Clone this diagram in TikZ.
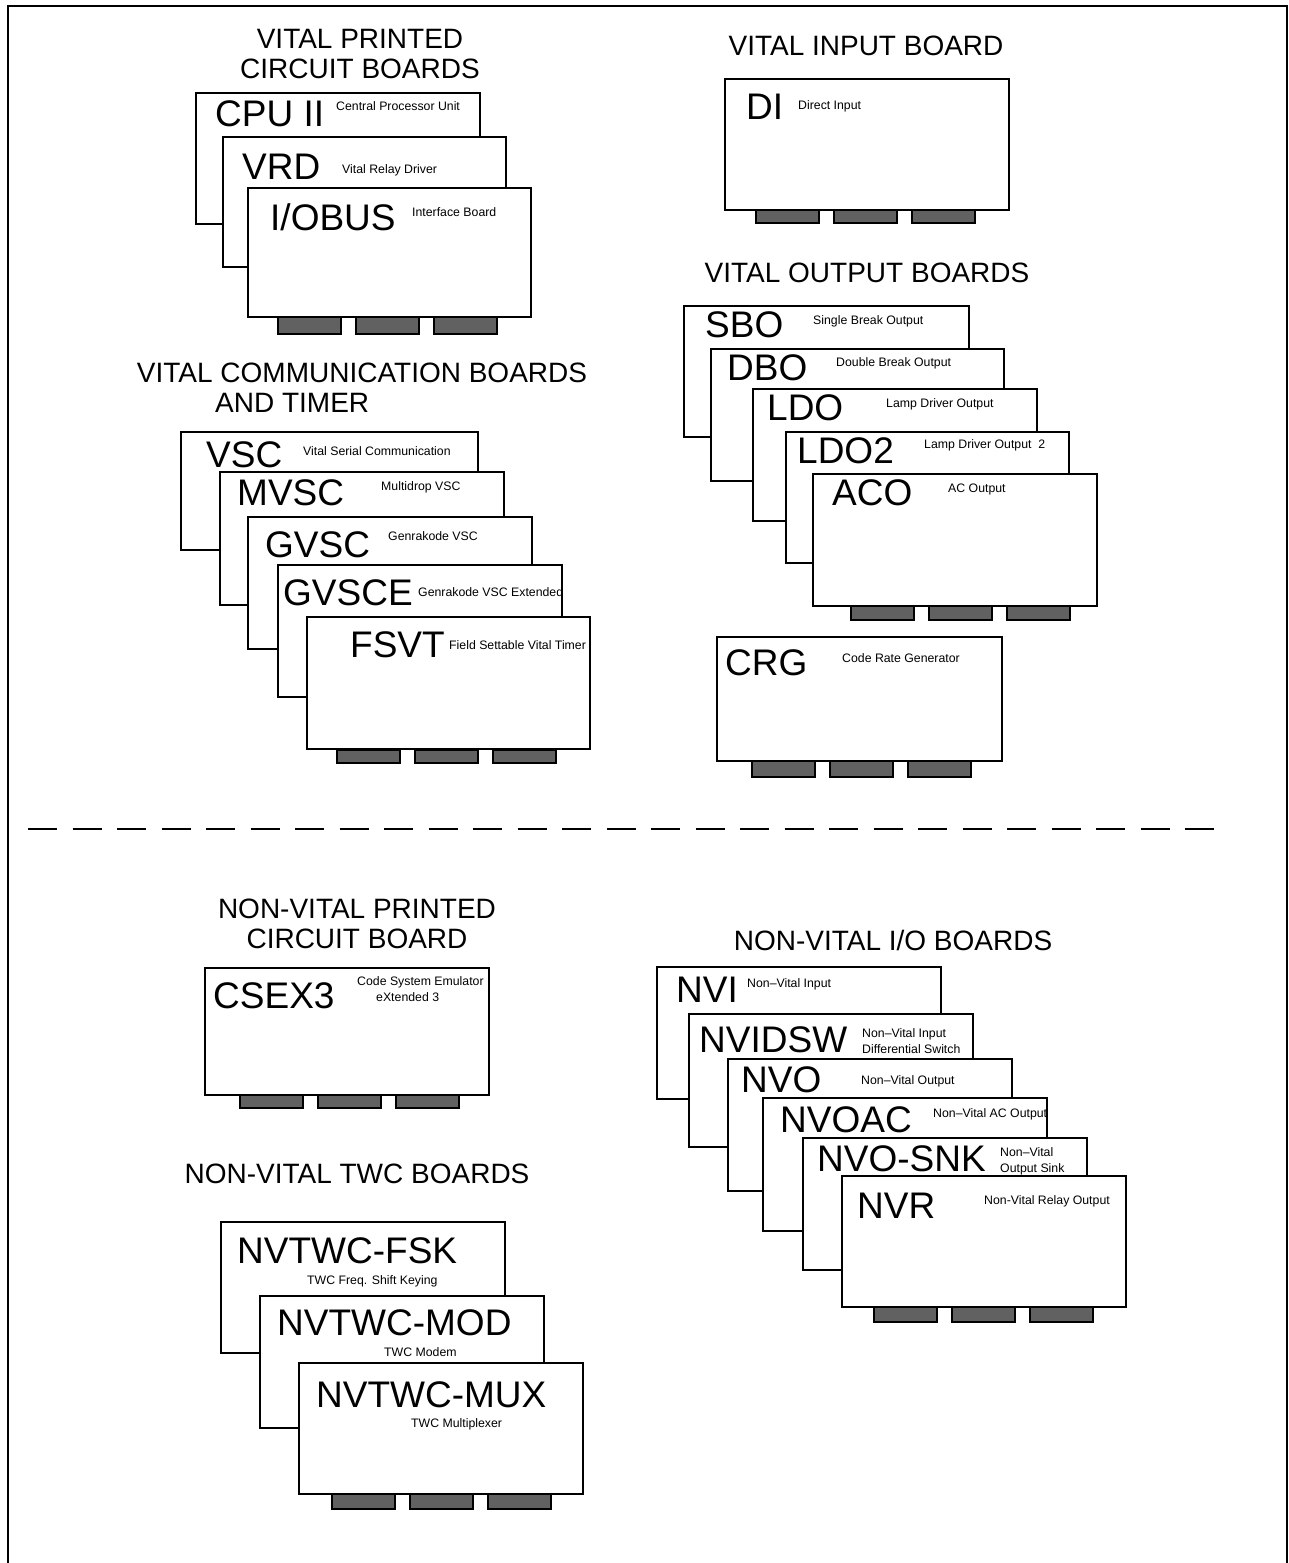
\documentclass[tikz,border=0pt]{standalone}
\usepackage{fontspec}
\setmainfont{Liberation Sans}
\usetikzlibrary{positioning}
\tikzset{
  % outline of one printed circuit board
  card/.style={draw=black,fill=white,line width=1.5pt},
  % edge connector fingers under a board
  finger/.style={draw=black,fill=black!62,line width=1.5pt},
  heading/.style={anchor=base,align=center,inner sep=0pt,
    font=\fontsize{28}{30}\selectfont},
  bigname/.style={anchor=base west,inner sep=0pt,
    font=\fontsize{37}{37}\selectfont},
  smallname/.style={anchor=base west,inner sep=0pt,align=left,
    font=\fontsize{12.3}{15.5}\selectfont},
}
\newcommand{\pcbfingers}[3]{%
  \foreach \k in {0,1,2}
    \path [finger] ({#1+78*\k},#2) rectangle ++(63,#3);
}

\begin{document}
\begin{tikzpicture}[x=1pt,y=-1pt]
\useasboundingbox (0,0) rectangle (1288,1563);
\path [draw=black,line width=2pt] (8,1563)--(8,6)--(1287,6)--(1287,1563);
\path [draw=black,line width=2pt,dash pattern=on 29pt off 15.5pt] (28,829)--(1215,829);

\begin{scope}
  \node [heading] (vitalpcb) at (360,78) {VITAL PRINTED\\CIRCUIT BOARDS};
  \path [card] (196,93) rectangle (480,224);
  \node [bigname] (cpu) at (215,126) {CPU II};
  \node [smallname] (cpudesc) at (336,110) {Central Processor Unit};
  \path [card] (223,137) rectangle (506,267);
  \node [bigname] (vrd) at (242,179) {VRD};
  \node [smallname] (vrddesc) at (342,173) {Vital Relay Driver};
  \path [card] (248,188) rectangle (531,317);
  \node [bigname] (iobus) at (270,230) {I/OBUS};
  \node [smallname] (iobusdesc) at (412,216) {Interface Board};
  \pcbfingers{278}{317}{17}
\end{scope}

\begin{scope}
  \node [heading] (vitalin) at (866,56) {VITAL INPUT BOARD};
  \path [card] (725,79) rectangle (1009,210);
  \node [bigname] (di) at (746,119) {DI};
  \node [smallname] (didesc) at (798,109) {Direct Input};
  \pcbfingers{756}{210}{13}
\end{scope}

\begin{scope}
  \node [heading] (vitalout) at (867,282) {VITAL OUTPUT BOARDS};
  \path [card] (684,306) rectangle (969,437);
  \node [bigname] (sbo) at (705,337) {SBO};
  \node [smallname] (sbodesc) at (813,324) {Single Break Output};
  \path [card] (711,349) rectangle (1004,481);
  \node [bigname] (dbo) at (727,380) {DBO};
  \node [smallname] (dbodesc) at (836,366) {Double Break Output};
  \path [card] (753,389) rectangle (1037,521);
  \node [bigname] (ldo) at (767,420) {LDO};
  \node [smallname] (ldodesc) at (886,407) {Lamp Driver Output};
  \path [card] (786,432) rectangle (1069,563);
  \node [bigname] (ldotwo) at (797,463) {LDO2};
  \node [smallname] (ldotwodesc) at (924,448) {Lamp Driver Output\ \ 2};
  \path [card] (813,474) rectangle (1097,606);
  \node [bigname] (aco) at (832,505) {ACO};
  \node [smallname] (acodesc) at (948,492) {AC Output};
  \pcbfingers{851}{606}{14}
\end{scope}

\begin{scope}
  \path [card] (717,637) rectangle (1002,761);
  \node [bigname] (crg) at (725,675) {CRG};
  \node [smallname] (crgdesc) at (842,662) {Code Rate Generator};
  \pcbfingers{752}{761}{16}
\end{scope}

\begin{scope}
  \node [heading] (vitalcomm) at (362,382) {VITAL COMMUNICATION BOARDS};
  \node [heading,anchor=base west] (vitaltimer) at (215,412) {AND TIMER};
  \path [card] (181,432) rectangle (478,550);
  \node [bigname] (vsc) at (206,467) {VSC};
  \node [smallname] (vscdesc) at (303,455) {Vital Serial Communication};
  \path [card] (220,472) rectangle (504,605);
  \node [bigname] (mvsc) at (237,505) {MVSC};
  \node [smallname] (mvscdesc) at (381,490) {Multidrop VSC};
  \path [card] (248,517) rectangle (532,649);
  \node [bigname] (gvsc) at (265,557) {GVSC};
  \node [smallname] (gvscdesc) at (388,540) {Genrakode VSC};
  \path [card] (278,565) rectangle (562,697);
  \node [bigname] (gvsce) at (283,605) {GVSCE};
  \node [smallname] (gvscedesc) at (418,596) {Genrakode VSC Extended};
  \path [card] (307,617) rectangle (590,749);
  \node [bigname] (fsvt) at (350,657) {FSVT};
  \node [smallname] (fsvtdesc) at (449,649) {Field Settable Vital Timer};
  \pcbfingers{337}{750}{13}
\end{scope}

\begin{scope}
  \node [heading] (nvpcb) at (357,948) {NON-VITAL PRINTED\\CIRCUIT BOARD};
  \path [card] (205,968) rectangle (489,1095);
  \node [bigname] (csex) at (213,1008) {CSEX3};
  \node [smallname] (csexdesc) at (357,985) {Code System Emulator};
  \node [smallname] (csexdescb) at (376,1001) {eXtended 3};
  \pcbfingers{240}{1095}{13}
\end{scope}

\begin{scope}
  \node [heading] (nvio) at (893,950) {NON-VITAL I/O BOARDS};
  \path [card] (657,967) rectangle (941,1099);
  \node [bigname] (nvi) at (676,1002) {NVI};
  \node [smallname] (nvidesc) at (747,987) {Non--Vital Input};
  \path [card] (689,1014) rectangle (973,1147);
  \node [bigname] (nvidsw) at (699,1052) {NVIDSW};
  \node [smallname] (nvidswdesc) at (862,1053) {Non--Vital Input\\Differential Switch};
  \path [card] (728,1059) rectangle (1012,1191);
  \node [bigname] (nvo) at (741,1092) {NVO};
  \node [smallname] (nvodesc) at (861,1084) {Non--Vital Output};
  \path [card] (763,1098) rectangle (1047,1231);
  \node [bigname] (nvoac) at (780,1132) {NVOAC};
  \node [smallname] (nvoacdesc) at (933,1117) {Non--Vital AC Output};
  \path [card] (803,1138) rectangle (1087,1270);
  \node [bigname] (nvosnk) at (817,1171) {NVO-SNK};
  \node [smallname] (nvosnkdesc) at (1000,1172) {Non--Vital\\Output Sink};
  \path [card] (842,1176) rectangle (1126,1307);
  \node [bigname] (nvr) at (857,1218) {NVR};
  \node [smallname] (nvrdesc) at (984,1204) {Non-Vital Relay Output};
  \pcbfingers{874}{1307}{15}
\end{scope}

\begin{scope}
  \node [heading] (nvtwc) at (357,1183) {NON-VITAL TWC BOARDS};
  \path [card] (221,1222) rectangle (505,1353);
  \node [bigname] (fsk) at (237,1263) {NVTWC-FSK};
  \node [smallname] (fskdesc) at (307,1284) {TWC Freq. Shift Keying};
  \path [card] (260,1296) rectangle (544,1428);
  \node [bigname] (mod) at (277,1335) {NVTWC-MOD};
  \node [smallname] (moddesc) at (384,1356) {TWC Modem};
  \path [card] (299,1363) rectangle (583,1494);
  \node [bigname] (mux) at (316,1407) {NVTWC-MUX};
  \node [smallname] (muxdesc) at (411,1427) {TWC Multiplexer};
  \pcbfingers{332}{1494}{15}
\end{scope}
\end{tikzpicture}
\end{document}
